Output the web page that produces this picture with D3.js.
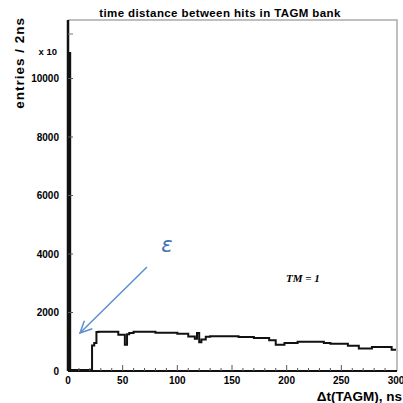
<!DOCTYPE html>
<meta charset="utf-8">
<title>TAGM hit time distance</title>
<style>
body { margin: 0; background: #fff; }
svg { display: block; font-family: "Liberation Sans", Arial, sans-serif; }
</style>
<body></body>
<script src="https://d3js.org/d3.v7.min.js"></script>
<script>
// step histogram: segment start (ns) and entries per 2ns
var binStarts = [0, 2, 22, 24, 26, 28, 46, 52, 54, 56, 60, 80, 100, 110, 116, 118, 120, 122, 126, 130, 156, 170, 184, 190, 198, 210, 234, 240, 256, 266, 278, 296, 300];
var counts    = [10870, 30, 870, 960, 1330, 1340, 1240, 900, 1260, 1300, 1340, 1310, 1270, 1180, 1100, 1300, 980, 1080, 1170, 1190, 1160, 1130, 1050, 900, 960, 1000, 960, 930, 860, 770, 820, 730, 730];

var xTicks = [0, 50, 100, 150, 200, 250, 300];
var yTicks = [0, 2000, 4000, 6000, 8000, 10000];

var width = 403, height = 403;
var plotLeft = 68, plotRight = 396, plotTop = 20, plotBottom = 371;

var svg = d3.select('body').append('svg')
    .attr('width', width)
    .attr('height', height);

var x = d3.scaleLinear().domain([0, 300]).range([plotLeft, plotRight]);
var y = d3.scaleLinear().domain([0, 12000]).range([plotBottom, plotTop]);

// frame (top/right light gray)
svg.append('path')
    .attr('d', 'M' + plotLeft + ',' + plotTop + 'H' + (plotRight + 1) + 'V' + plotBottom)
    .attr('fill', 'none')
    .attr('stroke', '#aaa')
    .attr('stroke-width', 1.5);

// histogram line
var pts = binStarts.map(function (d, i) { return [d, counts[i]]; });
var line = d3.line()
    .x(function (d) { return x(d[0]); })
    .y(function (d) { return y(d[1]); })
    .curve(d3.curveStepAfter);

svg.append('path')
    .datum(pts)
    .attr('d', line)
    .attr('fill', 'none')
    .attr('stroke', '#111')
    .attr('stroke-width', 2);

// spike bar at zero
svg.append('rect')
    .attr('x', x(0))
    .attr('y', y(counts[0]))
    .attr('width', 3)
    .attr('height', y(0) - y(counts[0]))
    .attr('fill', '#111');

// x axis
var gx = svg.append('g').attr('transform', 'translate(0,' + plotBottom + ')');
gx.append('line').attr('x1', plotLeft).attr('x2', plotRight + 1).attr('stroke', '#111').attr('stroke-width', 2);
gx.selectAll('.minor').data(d3.range(10, 300, 10)).enter().append('line')
    .attr('x1', function (d) { return x(d); })
    .attr('x2', function (d) { return x(d); })
    .attr('y1', 0)
    .attr('y2', function (d) { return d % 50 === 0 ? -6 : -3; })
    .attr('stroke', '#555');
gx.selectAll('text').data(xTicks).enter().append('text')
    .attr('x', function (d) { return x(d); })
    .attr('y', 13)
    .attr('text-anchor', 'middle')
    .style('font-size', '10px')
    .style('font-weight', 'bold')
    .text(function (d) { return d; });

// y axis
var gy = svg.append('g');
gy.append('line').attr('x1', plotLeft).attr('x2', plotLeft)
    .attr('y1', plotTop).attr('y2', plotBottom)
    .attr('stroke', '#111').attr('stroke-width', 2.5);
gy.selectAll('.tk').data(yTicks.slice(1)).enter().append('line')
    .attr('x1', plotLeft).attr('x2', plotLeft + 5)
    .attr('y1', function (d) { return y(d); })
    .attr('y2', function (d) { return y(d); })
    .attr('stroke', '#555');
gy.append('line').attr('x1', plotLeft).attr('x2', plotLeft + 5)
    .attr('y1', 34).attr('y2', 34).attr('stroke', '#777');
gy.selectAll('text').data(yTicks).enter().append('text')
    .attr('x', 59)
    .attr('y', function (d) { return y(d) + 3.5; })
    .attr('text-anchor', 'end')
    .style('font-size', '10px')
    .style('font-weight', 'bold')
    .text(function (d) { return d; });

svg.append('text')
    .attr('x', 57).attr('y', 55)
    .attr('text-anchor', 'end')
    .style('font-size', '9.5px')
    .style('font-weight', 'bold')
    .text('x 10');

// titles
svg.append('text')
    .attr('x', 220).attr('y', 17)
    .attr('text-anchor', 'middle')
    .style('font-size', '11.5px')
    .style('font-weight', 'bold')
    .style('letter-spacing', '0.4px')
    .text('time distance between hits in TAGM bank');

svg.append('text')
    .attr('transform', 'translate(24,17) rotate(-90)')
    .attr('text-anchor', 'end')
    .style('font-size', '13.5px')
    .style('font-weight', 'bold')
    .style('letter-spacing', '1px')
    .text('entries / 2ns');

svg.append('text')
    .attr('x', 402).attr('y', 401)
    .attr('text-anchor', 'end')
    .style('font-size', '13.5px')
    .style('font-weight', 'bold')
    .text('\u0394t(TAGM), ns');

svg.append('text')
    .attr('x', 286).attr('y', 282)
    .style('font-family', '"Liberation Serif", "Times New Roman", serif')
    .style('font-size', '11px')
    .style('font-weight', 'bold')
    .style('font-style', 'italic')
    .text('TM = 1');

// epsilon annotation
var blue = '#5b8fd0';
svg.append('text')
    .attr('x', 167).attr('y', 252)
    .attr('text-anchor', 'middle')
    .style('font-family', '"DejaVu Sans", sans-serif')
    .style('font-size', '21px')
    .style('font-style', 'italic')
    .attr('fill', '#3d6fb5')
    .text('\u03b5');

var tail = [147, 267], tip = [80, 333];
svg.append('line')
    .attr('x1', tail[0]).attr('y1', tail[1])
    .attr('x2', tip[0]).attr('y2', tip[1])
    .attr('stroke', blue).attr('stroke-width', 1.5);
var ang = Math.atan2(tail[1] - tip[1], tail[0] - tip[0]);
var barb = function (a) {
  return [tip[0] + 13 * Math.cos(ang + a), tip[1] + 13 * Math.sin(ang + a)];
};
var b1 = barb(0.45), b2 = barb(-0.45);
svg.append('path')
    .attr('d', 'M' + b1 + 'L' + tip + 'L' + b2)
    .attr('fill', 'none')
    .attr('stroke', blue).attr('stroke-width', 1.5);
</script>
